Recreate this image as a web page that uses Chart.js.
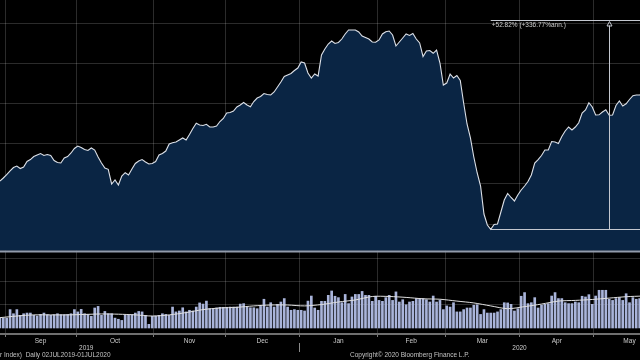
<!DOCTYPE html>
<html>
<head>
<meta charset="utf-8">
<script src="https://cdn.jsdelivr.net/npm/chart.js@4.4.1/dist/chart.umd.min.js"></script>
<style>
  html, body { margin: 0; padding: 0; background: #000; }
  canvas { display: block; }
</style>
</head>
<body>
<canvas id="c" width="640" height="360"></canvas>
<script>
// ---- Data (x = weekday index, 0 = Mon 02 Sep 2019) ----
const firstIndex = -3; // Wed 28 Aug 2019

const priceValues = [
  109.48,110.72,111.47,112.34,113.22,114.09,114.46,113.84,114.21,115.59,
  116.06,116.83,117.21,117.58,117.08,117.33,117.08,115.84,115.34,115.21,
  116.46,116.83,117.71,118.83,119.45,119.08,118.58,118.33,118.95,118.45,
  116.71,115.21,113.97,113.64,109.98,110.97,109.73,111.97,112.79,112.22,
  113.72,115.09,115.71,116.08,115.46,114.96,115.09,115.59,117.21,117.58,
  118.20,119.95,120.27,120.45,120.95,121.45,120.95,122.32,123.82,125.11,
  124.69,124.56,124.86,124.19,124.19,124.44,125.56,126.31,127.68,127.81,
  128.18,129.18,129.68,130.30,129.68,129.25,130.55,131.42,131.80,132.54,
  132.29,132.17,132.92,134.16,135.41,136.78,137.16,137.53,138.28,138.90,
  140.40,140.15,137.66,136.41,137.41,136.91,142.14,143.64,144.89,145.64,
  145.01,145.26,146.13,147.38,148.38,148.38,148.38,147.88,146.88,146.51,
  146.13,145.39,145.31,145.89,147.38,147.96,148.13,147.13,144.39,145.39,
  146.38,147.38,147.01,147.51,146.13,145.14,141.77,143.14,143.27,142.57,
  143.39,140.15,134.66,135.16,137.41,136.41,137.03,135.79,130.17,124.94,
  121.45,116.71,112.72,109.48,102.49,99.75,98.68,99.88,100.00,102.99,
  105.99,107.61,106.61,105.74,107.23,108.48,109.48,110.60,112.22,115.21,
  116.08,117.08,118.45,118.45,120.57,120.45,120.07,121.82,123.19,124.19,
  123.44,124.19,125.24,127.68,128.43,130.25,129.18,127.18,127.23,127.93,
  128.48,127.11,127.18,129.55,130.67,129.43,129.98,131.05,132.00,132.17,
  132.17,132.42
];

const volumeValues = [
  43,43,43,43,80,62,80,55,62,65,
  65,55,52,59,65,58,55,58,62,58,
  58,59,62,80,70,81,62,59,51,87,
  94,55,72,62,62,43,38,33,55,55,
  58,65,72,70,55,16,51,52,55,62,
  59,55,91,70,74,88,70,77,74,91,
  109,104,117,84,84,87,90,90,90,91,
  91,91,104,106,91,88,88,84,94,125,
  91,110,91,103,113,128,91,77,80,77,
  77,74,117,139,87,77,116,116,142,161,
  138,132,110,146,106,135,146,146,159,142,
  142,116,138,120,116,132,142,120,157,113,
  123,101,113,116,128,128,128,123,113,139,
  113,120,80,96,91,110,70,70,80,87,
  87,99,101,59,80,65,65,65,70,80,
  110,109,103,74,84,138,154,106,110,132,
  87,99,103,106,139,154,128,128,110,106,
  106,113,110,138,135,145,103,139,164,164,
  164,125,120,128,132,120,149,110,132,125,
  128,120
];

const maIndex  = [-2,3,8,13,18,23,28,33,38,43,48,53,58,63,68,73,78,83,88,93,98,103,108,113,118,123,128,133,138,143,148,153,158,163,168,173,178,183,188];
const maValues = [45,52,57,57,57,59,61,60,57,52,57,67,80,87,90,96,100,100,96,102,113,122,137,137,133,127,125,117,109,96,84,93,104,117,120,124,130,136,139];

const monthLabels = ['Sep','Oct','Nov','Dec','Jan','Feb','Mar','Apr','May'];
const monthStart  = [0,21,44,65,87,110,130,152,174,195];
const yearLabels  = ['2019','2020'];
const yearLabelIdx = [23.5, 151.5];
const yearBreakIdx = 86.5;
const priceGrid  = [100,110,120,130,140,150];
const volumeGrid = [100,200,300];
const priceBase  = 93.34;
const changePct  = 52.82;
const annotationText = '+52.82% (+336.77%ann.)';
const arrowIndex = 178;
const footerLeft  = 'r Index)  Daily 02JUL2019-01JUL2020';
const footerRight = 'Copyright\u00A9 2020 Bloomberg Finance L.P.';

// ---- Build datasets ----
const priceData  = priceValues.map((v, i) => ({ x: firstIndex + i, y: v }));
const volumeData = volumeValues.map((v, i) => ({ x: firstIndex + i, y: v }));
const maData     = maIndex.map((w, i) => ({ x: w, y: maValues[i] }));

const GRID = 'rgba(255,255,255,0.17)';
const FONT = "'Liberation Sans', Arial, sans-serif";

const monthTicks = [];
monthLabels.forEach((m, i) => {
  monthTicks.push({ value: monthStart[i] - 0.5, name: '' });
  monthTicks.push({ value: (monthStart[i] + monthStart[i + 1] - 1) / 2, name: m });
});

const extras = {
  id: 'extras',
  afterDraw(chart) {
    const { ctx, scales: { x, y } } = chart;
    ctx.save();
    // price panel bottom separator
    const yb = Math.round(y.getPixelForValue(priceBase)) + 0.5;
    ctx.strokeStyle = '#939cac';
    ctx.lineWidth = 2;
    ctx.beginPath(); ctx.moveTo(0, yb); ctx.lineTo(chart.width, yb); ctx.stroke();

    // change annotation
    let lowI = 0;
    priceValues.forEach((v, i) => { if (v < priceValues[lowI]) lowI = i; });
    const low = priceValues[lowI];
    const high = low * (1 + changePct / 100);
    const xl = x.getPixelForValue(firstIndex + lowI);
    const yl = Math.round(y.getPixelForValue(low)) + 0.5;
    const yh = Math.round(y.getPixelForValue(high)) + 0.5;
    const xa = Math.round(x.getPixelForValue(arrowIndex)) + 0.5;
    ctx.lineWidth = 1;
    ctx.strokeStyle = '#c4c8d0';
    ctx.beginPath();
    ctx.moveTo(xl, yl); ctx.lineTo(chart.width, yl);
    ctx.moveTo(xl, yh); ctx.lineTo(chart.width, yh);
    ctx.moveTo(xa, yl); ctx.lineTo(xa, yh + 5);
    ctx.stroke();
    ctx.beginPath();
    ctx.moveTo(xa, yh + 1); ctx.lineTo(xa - 2.5, yh + 5.5); ctx.lineTo(xa + 2.5, yh + 5.5); ctx.closePath();
    ctx.stroke();
    ctx.fillStyle = '#cccccc';
    ctx.font = '6.5px ' + FONT;
    ctx.textAlign = 'left';
    ctx.textBaseline = 'top';
    ctx.fillText(annotationText, xl + 1, yh + 1.5);

    // year break tick + year labels
    const xy = Math.round(x.getPixelForValue(yearBreakIdx)) + 0.5;
    ctx.strokeStyle = '#8a8a8a';
    ctx.beginPath(); ctx.moveTo(xy, 343); ctx.lineTo(xy, 352); ctx.stroke();
    ctx.textAlign = 'center';
    ctx.textBaseline = 'middle';
    ctx.fillStyle = '#cccccc';
    yearLabels.forEach((t, i) => ctx.fillText(t, x.getPixelForValue(yearLabelIdx[i]), 348));

    // footer
    ctx.textAlign = 'left';
    ctx.fillStyle = '#c2c2c2';
    ctx.fillText(footerLeft, 0, 355.5);
    ctx.fillText(footerRight, 350, 355.5);
    ctx.restore();
  }
};

new Chart(document.getElementById('c'), {
  type: 'bar',
  data: {
    datasets: [
      {
        type: 'line', label: 'Price', data: priceData, yAxisID: 'y', xAxisID: 'x',
        borderColor: '#dde1e8', borderWidth: 1.1, pointRadius: 0, tension: 0,
        fill: { value: priceBase }, backgroundColor: '#0a2544', order: 3
      },
      {
        type: 'line', label: 'Volume MA', data: maData, yAxisID: 'yv', xAxisID: 'x',
        borderColor: '#e0e0e0', borderWidth: 1, pointRadius: 0, tension: 0.3,
        fill: false, order: 0
      },
      {
        type: 'bar', label: 'Volume', data: volumeData, yAxisID: 'yv', xAxisID: 'x',
        backgroundColor: '#a9b4da', barThickness: 2, order: 2
      }
    ]
  },
  options: {
    responsive: false,
    animation: false,
    events: [],
    layout: { padding: 0 },
    plugins: { legend: { display: false }, tooltip: { enabled: false } },
    scales: {
      x: {
        type: 'linear', position: 'bottom', min: -1.98, max: 187.1, offset: false, z: 1,
        afterBuildTicks(s) { s.ticks = monthTicks.map(t => ({ value: t.value, name: t.name })); },
        afterFit(s) { s.height = 26; },
        grid: {
          offset: false, drawOnChartArea: true, drawTicks: true, tickLength: 3,
          color: c => (c.tick && c.tick.name) ? 'rgba(0,0,0,0)' : GRID,
          tickColor: c => (c.tick && c.tick.name) ? 'rgba(0,0,0,0)' : '#7a7a7a'
        },
        border: { display: true, color: '#6f6f6f', width: 2 },
        ticks: {
          autoSkip: false, maxRotation: 0, minRotation: 0, padding: 0,
          color: '#cccccc', font: { family: FONT, size: 6.5 },
          callback(v, i, ticks) { return ticks[i].name || ''; }
        }
      },
      y: {
        type: 'linear', position: 'left', min: 72.57, max: 155.86, z: 1,
        afterBuildTicks(s) { s.ticks = priceGrid.map(v => ({ value: v })); },
        afterFit(s) { s.width = 0; },
        grid: { color: GRID, drawTicks: false },
        border: { display: false },
        ticks: { display: false }
      },
      yv: {
        type: 'linear', position: 'left', min: -26.1, max: 1426.1, z: 0,
        afterBuildTicks(s) { s.ticks = volumeGrid.map(v => ({ value: v })); },
        afterFit(s) { s.width = 0; },
        grid: { color: GRID, drawTicks: false },
        border: { display: false },
        ticks: { display: false }
      }
    }
  },
  plugins: [extras]
});
</script>
</body>
</html>
